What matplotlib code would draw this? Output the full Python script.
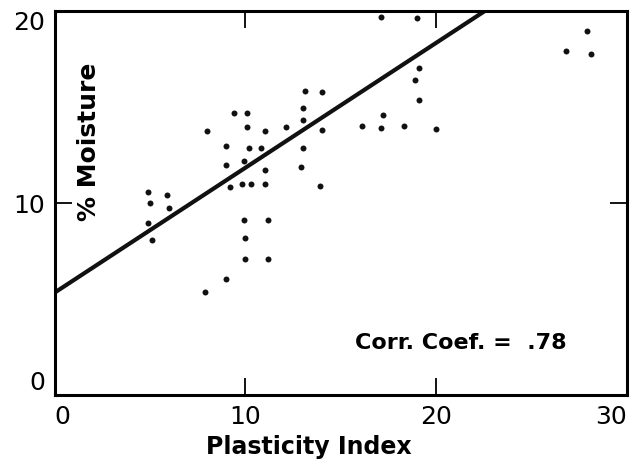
import matplotlib
matplotlib.use("Agg")
import matplotlib.pyplot as plt

# Plasticity index vs. moisture
plasticity = [13.1, 14.0, 9.4, 10.1, 13.0, 13.0, 8.0, 10.1, 11.0, 12.1,
              14.0, 9.0, 10.2, 10.8, 13.0, 9.0, 9.9, 11.0, 12.9, 9.2,
              9.8, 10.3, 11.0, 13.9, 4.9, 5.9, 5.0, 6.0, 4.9, 9.9,
              11.2, 5.1, 10.0, 10.0, 11.2, 9.0, 7.9,
              17.1, 19.0, 27.9, 26.8, 28.1, 19.1, 18.9, 19.1, 17.2,
              16.1, 17.1, 18.3, 20.0]
moisture = [15.85, 15.8, 14.7, 14.7, 14.95, 14.35, 13.75, 13.95, 13.75, 13.95,
            13.8, 13.0, 12.9, 12.9, 12.9, 12.0, 12.2, 11.75, 11.9, 10.85,
            11.0, 11.0, 11.0, 10.9, 10.6, 10.45, 10.0, 9.75, 8.95, 9.1,
            9.1, 8.1, 8.2, 7.1, 7.1, 6.05, 5.4,
            19.7, 19.65, 18.95, 17.95, 17.75, 17.05, 16.4, 15.4, 14.6,
            14.0, 13.9, 14.0, 13.85]

# regression line as drawn (intercept, slope)
intercept = 5.35
slope = 0.65
line_x = [0, 30]
corr_text = "Corr. Coef. =  .78"

plt.rcParams['font.family'] = ['DejaVu Sans']

fig = plt.figure(figsize=(6.3, 4.65), dpi=100)
ax = fig.add_axes([0.087, 0.15, 0.908, 0.826])

ax.plot(plasticity, moisture, 'o', color='#111111', ms=4.3, mec='none')
ax.plot(line_x, [intercept + slope * x for x in line_x], color='#111111', lw=3)

ax.set_xlim(0, 29.9)
ax.set_ylim(0, 19.9)
ax.set_xticks([0, 10, 20, 30])
ax.set_yticks([0, 10, 20])
ax.tick_params(direction='in', top=True, right=True, length=12, width=1.3,
               labelsize=18, pad=7)
for sp in ax.spines.values():
    sp.set_linewidth(2.2)

# keep the end labels inside the frame like the original
xl = ax.get_xticklabels()
xl[0].set_ha('left')
xl[-1].set_ha('right')
yl = ax.get_yticklabels()
yl[0].set_va('bottom')
yl[-1].set_va('top')

ax.set_xlabel('Plasticity Index', fontsize=17, fontweight='bold')
ax.xaxis.label.set_va('center')
ax.xaxis.set_label_coords(0.444, -0.135)
ax.text(0.06, 0.66, '% Moisture', transform=ax.transAxes, rotation=90,
        ha='center', va='center', fontsize=18, fontweight='bold')
ax.text(0.71, 0.135, corr_text, transform=ax.transAxes, ha='center',
        va='center', fontsize=16, fontweight='bold')

fig.savefig('out.png', dpi=100)
